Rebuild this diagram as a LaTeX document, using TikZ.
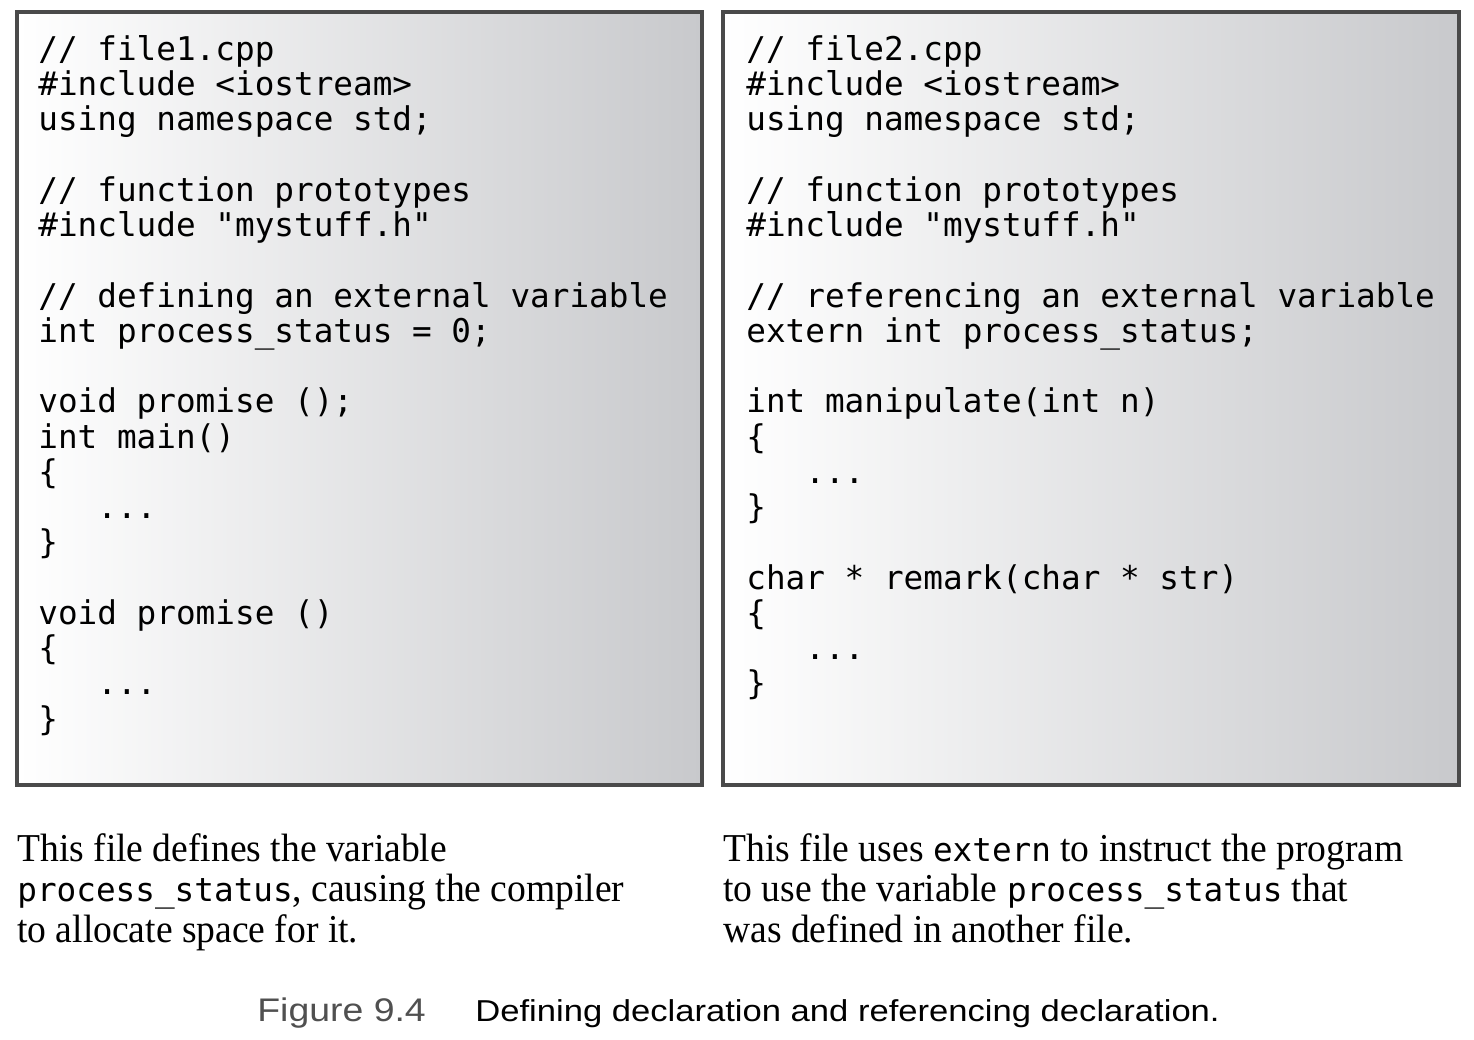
\documentclass[tikz,border=0pt]{standalone}
\usepackage{fontspec}
\usepackage{tikz}
\usetikzlibrary{calc}
\newfontfamily\codefont{DejaVu Sans Mono}[Ligatures=TeXOff]
\newfontfamily\notefont{Liberation Serif}[FakeStretch=0.95]
\newfontfamily\figfont{Liberation Sans}[FakeStretch=1.145]
\definecolor{boxgray}{RGB}{200,201,204}
\definecolor{boxedge}{RGB}{74,74,74}
\definecolor{figgray}{RGB}{80,80,80}
\tikzstyle{filebox}=[draw=boxedge,line width=2.28pt,left color=white,right color=boxgray]
\tikzstyle{codetext}=[anchor=base west,inner sep=0pt]
\tikzstyle{notetext}=[anchor=base west,inner sep=0pt]
\tikzstyle{figtext}=[anchor=base west,inner sep=0pt,font=\figfont\fontsize{17.2}{20}\selectfont]
\newcommand\codesize{\codefont\fontsize{18.6}{20.06}\selectfont}
\newcommand\codelines[1]{\parbox[t]{16cm}{\codesize\raggedright\frenchspacing #1}}
\newcommand\notelines[1]{\parbox[t]{16cm}{\notefont\fontsize{22.5}{23.3}\selectfont\raggedright\frenchspacing #1}}
\newcommand\cw[1]{{\codesize #1}}
\newcommand\indentdots{\phantom{xxx}...}

\begin{document}
\begin{tikzpicture}[x=0.02cm,y=-0.02cm]
    \useasboundingbox (0,0) rectangle (1474,1040);
    \draw [filebox] (17,12) rectangle (702,785);
    \draw [filebox] (723,12) rectangle (1459,785);
    \node [codetext] (file1) at (38,60.5) {\codelines{
        // file1.cpp\\
        \#include <iostream>\\
        using namespace std;\\
        \mbox{}\\
        // function prototypes\\
        \#include "mystuff.h"\\
        \mbox{}\\
        // defining an external variable\\
        int process\_status = 0;\\
        \mbox{}\\
        void promise ();\\
        int main()\\
        \{\\
        \indentdots\\
        \}\\
        \mbox{}\\
        void promise ()\\
        \{\\
        \indentdots\\
        \}}
    };
    \node [codetext] (file2) at (746,60.5) {\codelines{
        // file2.cpp\\
        \#include <iostream>\\
        using namespace std;\\
        \mbox{}\\
        // function prototypes\\
        \#include "mystuff.h"\\
        \mbox{}\\
        // referencing an external variable\\
        extern int process\_status;\\
        \mbox{}\\
        int manipulate(int n)\\
        \{\\
        \indentdots\\
        \}\\
        \mbox{}\\
        char * remark(char * str)\\
        \{\\
        \indentdots\\
        \}}
    };
    \node [notetext] (note1) at (17,861) {\notelines{
        This file defines the variable\\
        \cw{process\_status}, causing the compiler\\
        to allocate space for it.}
    };
    \node [notetext] (note2) at (723,861) {\notelines{
        This file uses \cw{extern} to instruct the program\\
        to use the variable \cw{process\_status} that\\
        was defined in another file.}
    };
    \node [figtext,text=figgray,font=\figfont\fontsize{18.6}{20}\selectfont] (fignum) at (257,1021.7) {Figure 9.4};
    \node [figtext,text=black] (figtitle) at (475,1021.7) {Defining declaration and referencing declaration.};
\end{tikzpicture}
\end{document}
